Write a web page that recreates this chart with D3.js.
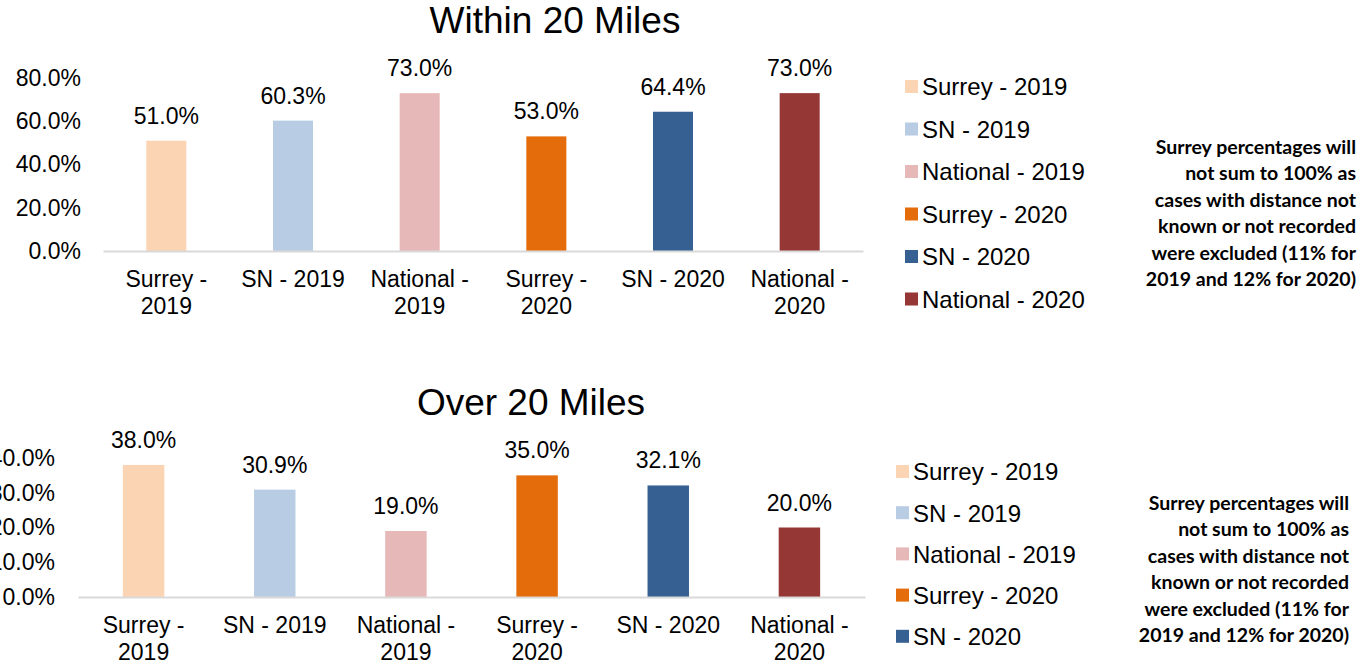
<!DOCTYPE html>
<html>
<head>
<meta charset="utf-8">
<script src="https://cdn.jsdelivr.net/npm/d3@7"></script>
<style>
  body { margin: 0; background: #fff; overflow: hidden; }
  svg { display: block; font-family: "Liberation Sans", Arial, sans-serif; }
  .note { font-family: Lato, "Open Sans", sans-serif; font-weight: bold; }
</style>
</head>
<body>
<svg width="1363" height="662"></svg>
<script>
// data
var categories = ['Surrey - 2019', 'SN - 2019', 'National - 2019', 'Surrey - 2020', 'SN - 2020', 'National - 2020'];
var barColors = ['#fbd4b4', '#b8cce4', '#e6b9b8', '#e46c0a', '#376092', '#953735'];
var within20 = [51.0, 60.3, 73.0, 53.0, 64.4, 73.0];
var over20 = [38.0, 30.9, 19.0, 35.0, 32.1, 20.0];
var withinTicks = [0, 20, 40, 60, 80];
var overTicks = [0, 10, 20, 30, 40];
var noteLines = ['Surrey percentages will', 'not sum to 100% as', 'cases with distance not',
  'known or not recorded', 'were excluded (11% for', '2019 and 12% for 2020)'];

var svg = d3.select('svg');
var color = d3.scaleOrdinal().domain(categories).range(barColors);

function pct(d) { return d.toFixed(1) + '%'; }

// draws one chart panel
function drawChart(opt) {
  var g = svg.append('g');

  g.append('text')
    .attr('x', opt.titleX)
    .attr('y', opt.titleY)
    .attr('text-anchor', 'middle')
    .style('font-size', '37px')
    .text(opt.title);

  var x = d3.scaleBand()
    .domain(categories)
    .range(opt.xRange)
    .paddingInner(0.684)
    .paddingOuter(0.342);

  var y = d3.scaleLinear()
    .domain([0, opt.ticks[opt.ticks.length - 1]])
    .range(opt.yRange);

  // y axis (labels only)
  var yAxis = g.append('g')
    .attr('transform', 'translate(' + opt.yLabelX + ',0)')
    .call(d3.axisLeft(y).tickValues(opt.ticks).tickSize(0).tickPadding(0).tickFormat(pct));
  yAxis.select('.domain').remove();
  yAxis.selectAll('text')
    .attr('fill', '#000')
    .style('font-size', '23px')
    .style('font-family', '"Liberation Sans", Arial, sans-serif');

  // bars
  g.selectAll('rect.bar')
    .data(opt.values)
    .enter()
    .append('rect')
    .attr('class', 'bar')
    .attr('x', function(d, i) { return x(categories[i]); })
    .attr('width', x.bandwidth())
    .attr('y', function(d) { return y(d); })
    .attr('height', function(d) { return y(0) - y(d); })
    .attr('fill', function(d, i) { return color(categories[i]); });

  // value labels
  g.selectAll('text.val')
    .data(opt.values)
    .enter()
    .append('text')
    .attr('class', 'val')
    .attr('x', function(d, i) { return x(categories[i]) + x.bandwidth() / 2; })
    .attr('y', function(d) { return y(d) - 17; })
    .attr('text-anchor', 'middle')
    .style('font-size', '23px')
    .text(pct);

  // x axis
  var xAxis = g.append('g')
    .attr('transform', 'translate(0,' + y(0) + ')')
    .call(d3.axisBottom(x).tickSize(0).tickSizeOuter(0));
  xAxis.select('.domain')
    .attr('stroke', '#d9d9d9')
    .attr('stroke-width', 2);
  xAxis.selectAll('text').each(function(d) {
    var t = d3.select(this);
    t.text(null)
      .attr('fill', '#000')
      .attr('y', 0)
      .attr('dy', null)
      .style('font-size', '23px')
      .style('font-family', '"Liberation Sans", Arial, sans-serif');
    var lines = d.length > 10 ? [d.slice(0, d.lastIndexOf(' ')), d.slice(d.lastIndexOf(' ') + 1)] : [d];
    lines.forEach(function(l, i) {
      t.append('tspan').attr('x', 0).attr('y', 36 + i * 27).text(l);
    });
  });

  // legend
  var legend = g.selectAll('g.legend')
    .data(categories)
    .enter()
    .append('g')
    .attr('class', 'legend')
    .attr('transform', function(d, i) {
      return 'translate(' + opt.legendX + ',' + (opt.legendY + i * opt.legendStep) + ')';
    });
  legend.append('rect')
    .attr('x', 0)
    .attr('y', -7)
    .attr('width', 13)
    .attr('height', 13)
    .attr('fill', color);
  legend.append('text')
    .attr('x', 17)
    .attr('dy', '0.35em')
    .style('font-size', '24px')
    .text(function(d) { return d; });

  // side note
  g.selectAll('text.note')
    .data(noteLines)
    .enter()
    .append('text')
    .attr('class', 'note')
    .attr('x', opt.noteX)
    .attr('y', function(d, i) { return opt.noteY + i * 26.5; })
    .attr('dy', '0.35em')
    .attr('text-anchor', 'end')
    .style('font-size', '19.5px')
    .text(function(d) { return d; });
}

drawChart({
  title: 'Within 20 Miles', titleX: 555, titleY: 33,
  values: within20, ticks: withinTicks,
  xRange: [103, 863], yRange: [251, 78], yLabelX: 81,
  legendX: 905, legendY: 87, legendStep: 42.5,
  noteX: 1356, noteY: 147
});

drawChart({
  title: 'Over 20 Miles', titleX: 531, titleY: 415,
  values: over20, ticks: overTicks,
  xRange: [78, 865], yRange: [597, 458], yLabelX: 55,
  legendX: 896, legendY: 472, legendStep: 41.2,
  noteX: 1349, noteY: 503
});
</script>
</body>
</html>
